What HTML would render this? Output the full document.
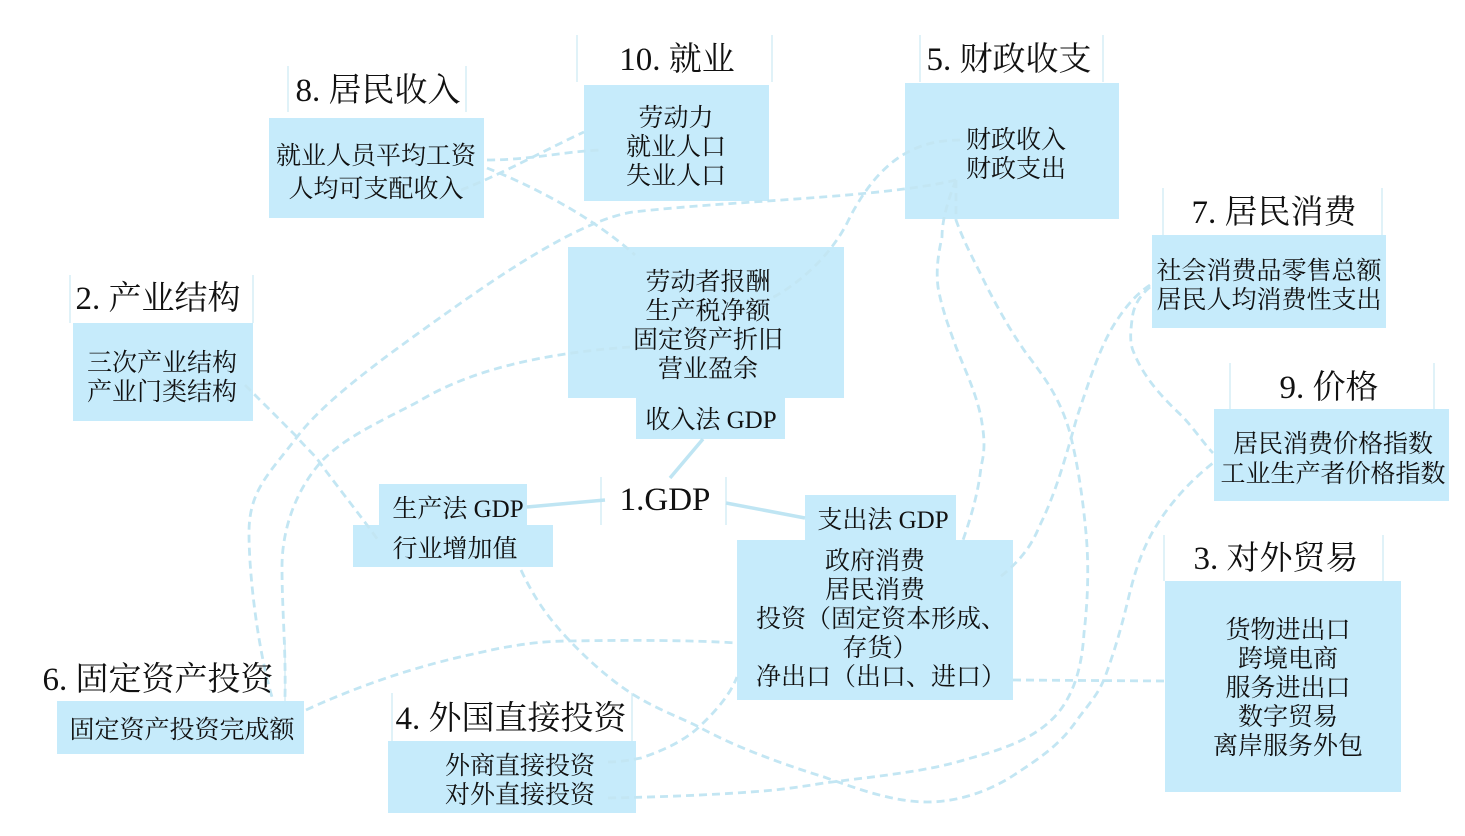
<!DOCTYPE html>
<html lang="zh">
<head>
<meta charset="utf-8">
<style>
html,body{margin:0;padding:0;background:#fff;width:1465px;height:836px;overflow:hidden}
svg{display:block}
text{font-family:"Liberation Serif","Noto Serif CJK SC",serif;fill:#111;text-anchor:middle}
.b{font-size:25px}
.t{font-size:33px}
.box{fill:#c6ebfb}
.tick{stroke:#d6edf6;stroke-width:1.5;fill:none}
.d{stroke:#c3e6f3;stroke-width:2.8;fill:none;stroke-dasharray:8 5}
.s{stroke:#bfe5f3;stroke-width:3.5;fill:none}
</style>
</head>
<body>
<svg width="1465" height="836" viewBox="0 0 1465 836" xmlns="http://www.w3.org/2000/svg">
<!-- title side ticks -->
<path class="tick" d="M288,66V112M466,66V112M577,35V82M772,35V82M920,35V82M1103,35V82M1163,188V235M1382,188V235M1230,363V409M1434,363V409M1164,535V581M1383,535V581M70,275V323M253,275V323M285,640V701M392,693V741M632,693V741M601,477V525M726,477V525"/>
<!-- boxes -->
<g class="box">
<rect x="269" y="118" width="215" height="100"/>
<rect x="584" y="85" width="185" height="116"/>
<rect x="905" y="83" width="214" height="136"/>
<rect x="1152" y="235" width="234" height="93"/>
<rect x="1214" y="409" width="235" height="92"/>
<rect x="1165" y="581" width="236" height="211"/>
<rect x="73" y="323" width="180" height="98"/>
<rect x="568" y="247" width="276" height="151"/>
<rect x="636" y="398" width="149" height="41"/>
<rect x="379" y="484" width="148" height="42"/>
<rect x="353" y="525" width="200" height="42"/>
<rect x="805" y="495" width="151" height="46"/>
<rect x="737" y="540" width="276" height="160"/>
<rect x="57" y="701" width="247" height="53"/>
<rect x="388" y="741" width="248" height="72"/>
</g>
<!-- solid connectors -->
<path class="s" d="M703,439L670,478M527,507L605,500M726,503L805,518"/>
<!-- dashed connectors -->
<path class="d" d="M487,160C530,160 560,152 600,150"/>
<path class="d" d="M461,190C500,175 545,150 584,132"/>
<path class="d" d="M487,168C530,185 590,215 635,255"/>
<path class="d" d="M956,180C880,198 740,200 633,212C580,220 500,275 441,317C382,359 325,400 297,437C269,474 249,490 249,533C249,576 258,650 272,697"/>
<path class="d" d="M630,347C560,352 480,365 421,400C395,415 345,435 320,463C295,492 282,530 282,567C282,610 286,650 285,697"/>
<path class="d" d="M960,140C915,140 880,160 850,217C835,250 805,280 772,298"/>
<path class="d" d="M245,385C265,405 285,425 297,437C305,447 315,455 320,463C340,490 360,515 378,540"/>
<path class="d" d="M521,570C535,600 550,620 569,640C585,657 605,675 622,687C650,707 675,715 699,727C735,747 785,765 824,777C860,790 895,802 927,802C960,802 990,790 1011,777C1040,758 1060,745 1077,720C1088,705 1098,695 1105,677C1115,650 1122,625 1128,600C1134,575 1140,555 1152,533C1165,510 1185,485 1213,463"/>
<path class="d" d="M608,798C660,797 710,795 750,792C780,790 800,787 824,783C870,777 925,772 964,760C1000,750 1035,740 1058,713C1075,692 1082,665 1084,633C1088,600 1089,565 1086,533C1083,500 1078,465 1070,433C1060,398 1045,378 1026,353C1010,330 1000,312 987,287C975,262 965,245 956,220L956,180"/>
<path class="d" d="M956,180C948,200 942,220 942,237C938,255 936,270 938,287C942,310 950,330 956,347C965,370 975,390 981,417C985,440 985,450 981,467C978,495 970,520 962,543"/>
<path class="d" d="M1150,285C1135,295 1125,308 1117,320C1100,345 1088,385 1077,417C1065,460 1055,495 1039,527C1030,550 1015,565 1000,577"/>
<path class="d" d="M1150,287C1138,297 1133,308 1132,320C1130,335 1130,345 1134,353C1145,380 1165,400 1183,417C1195,430 1205,445 1213,453"/>
<path class="d" d="M1013,680L1165,681"/>
<path class="d" d="M306,710C360,685 420,665 478,653C520,643 550,641 569,641C630,640 690,640 737,643"/>
<path class="d" d="M608,762C620,762 630,760 641,758C665,750 685,740 699,727C715,712 730,695 737,677"/>
<g transform="translate(0,1)">
<!-- titles -->
<g class="t">
<text x="378" y="100">8. 居民收入</text>
<text x="677" y="69">10. 就业</text>
<text x="1009" y="69">5. 财政收支</text>
<text x="1274" y="222">7. 居民消费</text>
<text x="1329" y="397">9. 价格</text>
<text x="1276" y="568">3. 对外贸易</text>
<text x="158" y="308">2. 产业结构</text>
<text x="158" y="689">6. 固定资产投资</text>
<text x="511" y="728">4. 外国直接投资</text>
<text x="665" y="509">1.GDP</text>
</g>
<!-- body text -->
<g class="b">
<text x="376" y="163">就业人员平均工资</text>
<text x="376" y="196">人均可支配收入</text>
<text x="676" y="125">劳动力</text>
<text x="676" y="154">就业人口</text>
<text x="676" y="183">失业人口</text>
<text x="1016" y="147">财政收入</text>
<text x="1016" y="176">财政支出</text>
<text x="1269" y="278">社会消费品零售总额</text>
<text x="1269" y="307">居民人均消费性支出</text>
<text x="1333" y="451">居民消费价格指数</text>
<text x="1333" y="481">工业生产者价格指数</text>
<text x="1288" y="637">货物进出口</text>
<text x="1288" y="666">跨境电商</text>
<text x="1288" y="695">服务进出口</text>
<text x="1288" y="724">数字贸易</text>
<text x="1288" y="753">离岸服务外包</text>
<text x="162" y="370">三次产业结构</text>
<text x="162" y="399">产业门类结构</text>
<text x="708" y="289">劳动者报酬</text>
<text x="708" y="318">生产税净额</text>
<text x="708" y="347">固定资产折旧</text>
<text x="708" y="376">营业盈余</text>
<text x="711" y="427">收入法 GDP</text>
<text x="458" y="516">生产法 GDP</text>
<text x="455" y="556">行业增加值</text>
<text x="883" y="527">支出法 GDP</text>
<text x="875" y="568">政府消费</text>
<text x="875" y="597">居民消费</text>
<text x="881" y="626">投资（固定资本形成、</text>
<text x="880" y="655">存货）</text>
<text x="881" y="684">净出口（出口、进口）</text>
<text x="182" y="737">固定资产投资完成额</text>
<text x="520" y="773">外商直接投资</text>
<text x="520" y="802">对外直接投资</text>
</g>
</g>
</svg>
</body>
</html>
